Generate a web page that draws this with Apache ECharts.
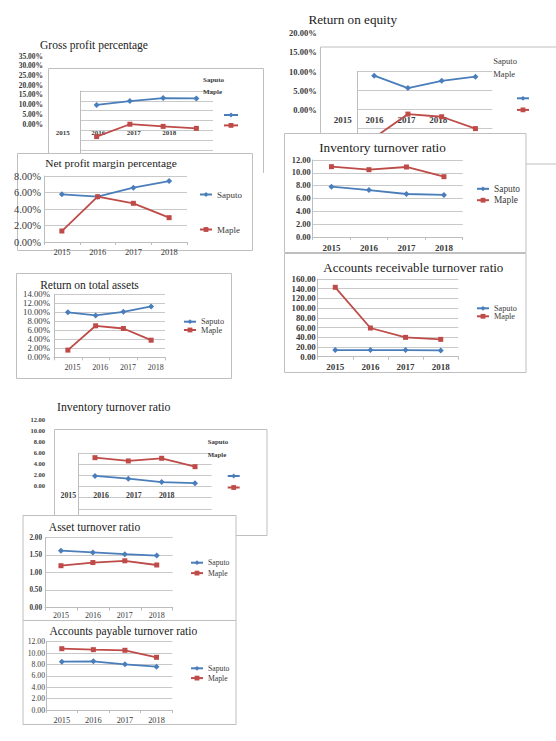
<!DOCTYPE html>
<html><head><meta charset="utf-8">
<style>html,body{margin:0;padding:0;background:#fff}#c{width:556px;height:741px}</style>
<script src="https://cdn.jsdelivr.net/npm/echarts@6/dist/echarts.min.js"></script>
</head><body><div id="c"></div>
<script>
// ---------- data ----------
const years = ['2015', '2016', '2017', '2018'];
const seriesNames = ['Saputo', 'Maple'];

const grossSaputo = [7.9, 9.9, 11.4, 11.2];
const grossMaple = [-8.2, -1.9, -3.0, -4.0];
const grossTickAxis = [0, 35, 5];
const grossPlotAxis = [-20, 15, 5];

const netSaputo = [5.78, 5.49, 6.58, 7.39];
const netMaple = [1.33, 5.49, 4.69, 2.95];
const netAxis = [0, 8, 2];

const rotaSaputo = [10.0, 9.3, 10.1, 11.3];
const rotaMaple = [1.6, 7.0, 6.4, 3.8];
const rotaAxis = [0, 14, 2];

const roeSaputo = [8.85, 5.6, 7.5, 8.6];
const roeMaple = [-7.4, -1.2, -1.9, -5.0];
const roeTickAxis = [0, 20, 5];
const roePlotAxis = [-10, 10, 5];

const invSaputo = [7.84, 7.32, 6.70, 6.55];
const invMaple = [10.96, 10.49, 10.91, 9.40];
const invAxis = [0, 12, 2];

const arSaputo = [13.7, 13.7, 13.7, 13.0];
const arMaple = [142.9, 59.1, 39.8, 35.7];
const arAxis = [0, 160, 20];

const inv2Saputo = [1.92, 1.42, 0.81, 0.61];
const inv2Maple = [5.21, 4.62, 5.10, 3.59];
const inv2TickAxis = [0, 12, 2];
const inv2PlotAxis = [-6, 6, 2];

const atSaputo = [1.63, 1.58, 1.53, 1.49];
const atMaple = [1.20, 1.29, 1.34, 1.22];
const atAxis = [0, 2, 0.5];

const apSaputo = [8.49, 8.56, 8.03, 7.61];
const apMaple = [10.77, 10.60, 10.49, 9.26];
const apAxis = [0, 12, 2];

// ---------- styling ----------
const SER = '"Liberation Serif", "Times New Roman", serif';
const BLUE = '#4a7ebb', RED = '#be4b48';
const GRC = '#c9c9c9', AXC = '#bdbdbd', BOXC = '#bfbfbf', TXT = '#3a3a3a', TTL = '#222';

const opt = { animation: false, backgroundColor: '#fff', grid: [], xAxis: [], yAxis: [], series: [], legend: [], graphic: [] };

function addGrid(g, xa, ya, z) {
  const gi = opt.grid.length;
  opt.grid.push({ left: g.l, top: g.t, width: g.w, height: g.h, containLabel: false, outerBoundsMode: 'none', show: false });
  opt.xAxis.push({
    gridIndex: gi, type: 'category', data: years, boundaryGap: true, z: z,
    axisLine: { show: !!xa.line, onZero: false, lineStyle: { color: AXC } },
    axisTick: { show: !!xa.tick, length: 3, lineStyle: { color: AXC } },
    axisLabel: { show: !!xa.label, interval: 0, margin: xa.margin || 6, fontSize: xa.size || 8,
      fontWeight: xa.bold ? 'bold' : 'normal', fontFamily: SER, color: TXT, padding: xa.pad || 0 },
    splitLine: { show: false }
  });
  opt.yAxis.push({
    gridIndex: gi, type: 'value', min: ya.range[0], max: ya.range[1], interval: ya.range[2], z: z,
    axisLine: { show: !!ya.line, onZero: false, lineStyle: { color: AXC } },
    axisTick: { show: false },
    axisLabel: { show: !!ya.label, margin: ya.margin || 4, fontSize: ya.size || 8,
      fontWeight: ya.bold ? 'bold' : 'normal', fontFamily: SER, color: TXT,
      formatter: v => v.toFixed(2) + (ya.pct ? '%' : '') },
    splitLine: { show: !!ya.split, lineStyle: { color: GRC, width: 1 } }
  });
  return gi;
}
function addSeries(gi, sap, map, z) {
  opt.series.push({ type: 'line', name: seriesNames[0], xAxisIndex: gi, yAxisIndex: gi, data: sap, z: z,
    symbol: 'diamond', symbolSize: 6, lineStyle: { color: BLUE, width: 1.8 }, itemStyle: { color: BLUE },
    silent: true, emphasis: { disabled: true } });
  opt.series.push({ type: 'line', name: seriesNames[1], xAxisIndex: gi, yAxisIndex: gi, data: map, z: z,
    symbol: 'rect', symbolSize: 5, lineStyle: { color: RED, width: 1.8 }, itemStyle: { color: RED },
    silent: true, emphasis: { disabled: true } });
}
function addLegend(left, top, gap, w, size, bold, showText, z) {
  opt.legend.push({ data: seriesNames, orient: 'vertical', left: left, top: top, padding: 0, itemGap: gap,
    itemWidth: w, itemHeight: 6, selectedMode: false, z: z,
    formatter: showText ? '{name}' : () => '',
    textStyle: { fontFamily: SER, fontSize: size, fontWeight: bold ? 'bold' : 'normal', color: TXT } });
}
function addText(x, y, text, size, bold, z, color) {
  opt.graphic.push({ type: 'text', x: x, y: y, z: z, silent: true,
    style: { text: text, fontSize: size, fontFamily: SER, fontWeight: bold ? 'bold' : 'normal',
      fill: color || TTL, textAlign: 'left', textVerticalAlign: 'middle', align: 'left', verticalAlign: 'middle' } });
}
function addTitle(cx, y, text, size, z) {
  opt.graphic.push({ type: 'text', x: cx, y: y, z: z, silent: true,
    style: { text: text, fontSize: size, fontFamily: SER, fill: TTL,
      textAlign: 'center', textVerticalAlign: 'middle', align: 'center', verticalAlign: 'middle' } });
}
function addBox(x, y, w, h, fill, z) {
  opt.graphic.push({ type: 'rect', z: z, silent: true, shape: { x: x + 0.5, y: y + 0.5, width: w, height: h },
    style: { fill: fill ? '#fff' : 'none', stroke: BOXC, lineWidth: 1 } });
}

// ---------- boxes (frames) ----------
opt.graphic.push({ type: 'polyline', z: 0, silent: true,
  shape: { points: [[48.5, 160], [48.5, 68.5], [263.5, 68.5], [263.5, 173]] },
  style: { stroke: BOXC, fill: 'none', lineWidth: 1 } });
addBox(320, 46.5, 240, 117, false, 0);
addBox(54, 429, 212.5, 106, false, 0);
addBox(17, 153, 235, 97, true, 5);
addBox(16, 273, 215, 105, true, 5);
addBox(284, 133, 241.5, 119, true, 5);
addBox(284, 253, 241.5, 119, true, 5);
addBox(22.5, 515, 213, 105, true, 5);
addBox(22.5, 620, 213, 104, true, 5);

// ---------- 1 Gross profit percentage (misaligned layout) ----------
addTitle(94, 45, 'Gross profit percentage', 11.5, 3);
addGrid({ l: 45, t: 56, w: 142, h: 68 }, { label: true, size: 7, bold: true, margin: 5.5 },
  { label: true, range: grossTickAxis, pct: true, size: 7.5, bold: true, margin: 2 }, 1);
let g = addGrid({ l: 80, t: 91, w: 133, h: 68.8 }, {}, { line: true, split: true, range: grossPlotAxis }, 1);
addSeries(g, grossSaputo, grossMaple, 2);
addText(203, 80, 'Saputo', 7, true, 3, TXT);
addText(203, 92, 'Maple', 7, true, 3, TXT);
addLegend(223, 112, 5, 14, 6, false, false, 3);

// ---------- 2 Net profit margin ----------
addTitle(111, 163, 'Net profit margin percentage', 11.4, 9);
g = addGrid({ l: 44, t: 176, w: 143, h: 66 }, { line: true, tick: true, label: true, size: 8.5, margin: 5 },
  { line: true, split: true, label: true, range: netAxis, pct: true, size: 10.5, margin: 3 }, 6);
addSeries(g, netSaputo, netMaple, 7);
addLegend(199, 190, 26, 12, 9, false, true, 8);

// ---------- 3 Return on total assets ----------
addTitle(89.5, 285, 'Return on total assets', 11.5, 9);
g = addGrid({ l: 54, t: 294.3, w: 111, h: 63 }, { line: true, tick: true, label: true, size: 8, margin: 6, pad: [0, 0, 0, 9] },
  { line: true, split: true, label: true, range: rotaAxis, pct: true, size: 8.75, margin: 4 }, 6);
addSeries(g, rotaSaputo, rotaMaple, 7);
addLegend(183, 317.7, 0.3, 12, 8.3, false, true, 8);

// ---------- 4 Return on equity (misaligned layout) ----------
addTitle(352.7, 19, 'Return on equity', 13.2, 3);
addGrid({ l: 326.7, t: 33.3, w: 127.6, h: 76.7 }, { label: true, size: 9, bold: true, margin: 5.5 },
  { label: true, range: roeTickAxis, pct: true, size: 8.5, bold: true, margin: 10 }, 1);
g = addGrid({ l: 357.3, t: 71.3, w: 135, h: 76.4 }, {}, { line: true, split: true, range: roePlotAxis }, 1);
addSeries(g, roeSaputo, roeMaple, 2);
addText(493.3, 60.7, 'Saputo', 8.5, false, 3, TXT);
addText(493.3, 74, 'Maple', 8.5, false, 3, TXT);
addLegend(516, 95.3, 6.2, 12, 6, false, false, 3);

// ---------- 5 Inventory turnover ratio ----------
addTitle(382.5, 147.3, 'Inventory turnover ratio', 13.2, 9);
g = addGrid({ l: 312.7, t: 160, w: 150, h: 77 }, { line: true, tick: true, label: true, size: 9, bold: true, margin: 6 },
  { line: true, split: true, label: true, range: invAxis, size: 8.4, bold: true, margin: 2 }, 6);
addSeries(g, invSaputo, invMaple, 7);
addLegend(476, 184.3, 2.4, 12, 9.4, false, true, 8);

// ---------- 6 Accounts receivable turnover ratio ----------
addTitle(413.3, 267.3, 'Accounts receivable turnover ratio', 13, 9);
g = addGrid({ l: 317.7, t: 279, w: 140.6, h: 77.7 }, { line: true, tick: true, label: true, size: 9, bold: true, margin: 6 },
  { line: true, split: true, label: true, range: arAxis, size: 8.8, bold: true, margin: 2 }, 6);
addSeries(g, arSaputo, arMaple, 7);
addLegend(476, 304.3, 0, 12, 8.2, false, true, 8);

// ---------- 7 Inventory turnover ratio (misaligned layout) ----------
addTitle(113.7, 407.3, 'Inventory turnover ratio', 11.8, 3);
addGrid({ l: 51.9, t: 419, w: 131.2, h: 66.7 }, { label: true, size: 7.8, bold: true, margin: 6 },
  { label: true, range: inv2TickAxis, size: 6.5, bold: true, margin: 6.9 }, 1);
g = addGrid({ l: 78.3, t: 453.3, w: 133.4, h: 66.6 }, {}, { line: true, split: true, range: inv2PlotAxis }, 1);
addSeries(g, inv2Saputo, inv2Maple, 2);
addText(207.7, 441.7, 'Saputo', 6.8, true, 3, TXT);
addText(207.7, 454.3, 'Maple', 6.8, true, 3, TXT);
addLegend(226.7, 473, 6.1, 12, 6, false, false, 3);

// ---------- 8 Asset turnover ratio ----------
addTitle(94.5, 526.7, 'Asset turnover ratio', 11.5, 9);
g = addGrid({ l: 45, t: 537.7, w: 127.7, h: 70 }, { line: true, tick: true, label: true, size: 8, margin: 4 },
  { line: true, split: true, label: true, range: atAxis, size: 7.2, bold: true, margin: 3 }, 6);
addSeries(g, atSaputo, atMaple, 7);
addLegend(190, 558.7, 2.4, 12, 7.7, false, true, 8);

// ---------- 9 Accounts payable turnover ratio ----------
addTitle(123.3, 630.7, 'Accounts payable turnover ratio', 11.5, 9);
g = addGrid({ l: 46, t: 641.7, w: 126.3, h: 68.3 }, { line: true, tick: true, label: true, size: 8.3, margin: 6 },
  { line: true, split: true, label: true, range: apAxis, size: 7.7, margin: 1 }, 6);
addSeries(g, apSaputo, apMaple, 7);
addLegend(190, 664.3, 1.8, 12, 7.7, false, true, 8);

const chart = echarts.init(document.getElementById('c'), null, { renderer: 'svg' });
chart.setOption(opt);
</script>
</body></html>
